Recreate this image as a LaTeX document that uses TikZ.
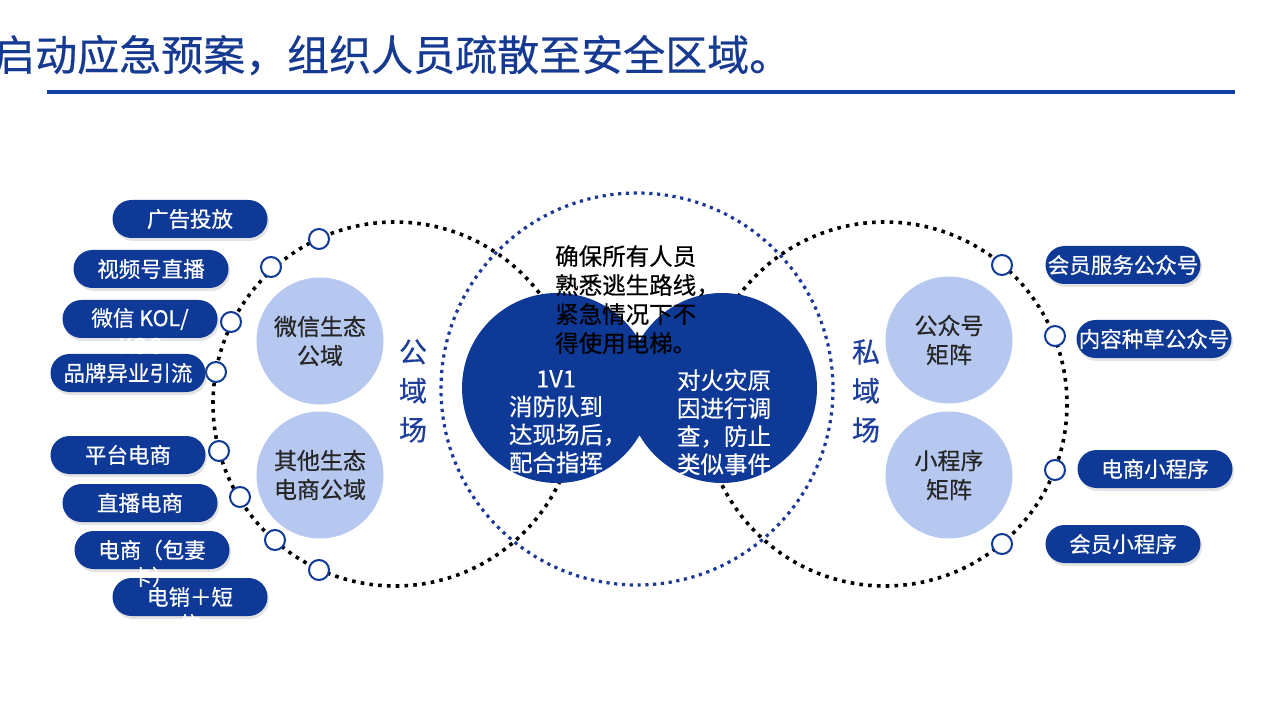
\documentclass[tikz,border=0pt]{standalone}
\usepackage{fontspec}
\setmainfont[FakeBold=0.5]{Noto Sans CJK SC}
\usetikzlibrary{shadows}
\definecolor{navy}{RGB}{14,57,150}
\definecolor{titleblue}{RGB}{22,58,145}
\definecolor{rule}{RGB}{16,64,160}
\definecolor{lightblue}{RGB}{182,200,240}
\definecolor{dotblue}{RGB}{28,56,150}
\definecolor{labelblue}{RGB}{30,62,155}
\tikzset{
  pill/.style={fill=navy, rounded corners=19pt, minimum width=155pt, minimum height=38pt,
    inner sep=0pt, text=white, font=\fontsize{21.5}{26}\selectfont,
    drop shadow={opacity=0.22, shadow xshift=1.5pt, shadow yshift=-3pt}},
  overflow/.style={text=white, font=\fontsize{21.5}{26}\selectfont, inner sep=0pt},
  ring/.style={circle, draw=navy, line width=2pt, fill=white, minimum size=20pt, inner sep=0pt},
  blackdots/.style={draw=black, line width=3.6pt, dash pattern=on 3.6pt off 5.2pt},
  bluedots/.style={draw=dotblue, line width=3.2pt, dash pattern=on 3.2pt off 4.6pt},
  soft/.style={circle, fill=lightblue, minimum size=127pt, inner sep=0pt, align=center,
    text=black!85, font=\fontsize{23}{29}\selectfont},
  vlabel/.style={align=center, text=labelblue, font=\fontsize{28}{39}\selectfont, inner sep=0pt},
  blobtext/.style={align=center, text width=94pt, text=white, inner sep=0pt,
    font=\fontsize{23.5}{28}\selectfont}
}
\begin{document}
\begin{tikzpicture}[x=1pt,y=-1pt]
\useasboundingbox (0,0) rectangle (1280,719);
% title
\node[anchor=west, inner sep=0pt, text=titleblue, font=\fontsize{42}{48}\selectfont] (title) at (-7,55) {启动应急预案，组织人员疏散至安全区域。};
\fill[rule] (47,90.5) rectangle (1235,94);
% big dotted circles
\draw[blackdots] (395,404) circle[radius=182];
\draw[blackdots] (885,404) circle[radius=182];
\draw[bluedots] (637,389) circle[radius=196];
% central blob
\fill[navy] (557,388) circle[radius=95] (722,388) circle[radius=95];
% soft circles
\node[soft] (wx) at (320,341) {微信生态\\公域};
\node[soft] (qt) at (320,475) {其他生态\\电商公域};
\node[soft] (gzh) at (949,340) {公众号\\矩阵};
\node[soft] (xcx) at (949,475) {小程序\\矩阵};
% vertical labels
\node[vlabel] (gy) at (413,391) {公\\域\\场};
\node[vlabel] (sy) at (866,391) {私\\域\\场};
% central texts
\node[anchor=north west, align=left, inner sep=0pt, text=black, font=\fontsize{23.5}{29}\selectfont] (center) at (555,245) {确保所有人员\\熟悉逃生路线，\\紧急情况下不\\得使用电梯。};
\node[blobtext, anchor=north] (lt) at (556,370) {1V1\\消防队到\\达现场后，\\配合指挥};
\node[blobtext, anchor=north] (rt) at (724,369) {对火灾原\\因进行调\\查，防止\\类似事件};
% rings on circles
\foreach \n/\p in {l1/{(319,239)}, l2/{(271,267)}, l3/{(231,322)}, l4/{(216,372)},
                   l5/{(219,451)}, l6/{(240,497)}, l7/{(275,540)}, l8/{(319,570)},
                   r1/{(1002,265)}, r2/{(1055,336)}, r3/{(1055,470)}, r4/{(1002,544)}}
  \node[ring] (\n) at \p {};
% pills
\node[pill] (p1) at (190,219) {广告投放};
\node[pill] (p2) at (151,269) {视频号直播};
\node[pill] (p3) at (140,319) {微信 KOL/};
\node[pill] (p4) at (128,373) {品牌异业引流};
\node[pill] (p5) at (128,455) {平台电商};
\node[pill] (p6) at (140,503) {直播电商};
\node[pill] (p7) at (152,550) {电商（包妻};
\node[pill] (p8) at (190,597) {电销＋短};
\node[overflow] (o3) at (140,346) {KOC};
\node[overflow] (o7) at (152,577) {卡）};
\node[overflow] (o8) at (190,624) {信};
\node[pill] (q1) at (1123,265) {会员服务公众号};
\node[pill] (q2) at (1154,339) {内容种草公众号};
\node[pill] (q3) at (1155,469) {电商小程序};
\node[pill] (q4) at (1123,544) {会员小程序};
\end{tikzpicture}
\end{document}
